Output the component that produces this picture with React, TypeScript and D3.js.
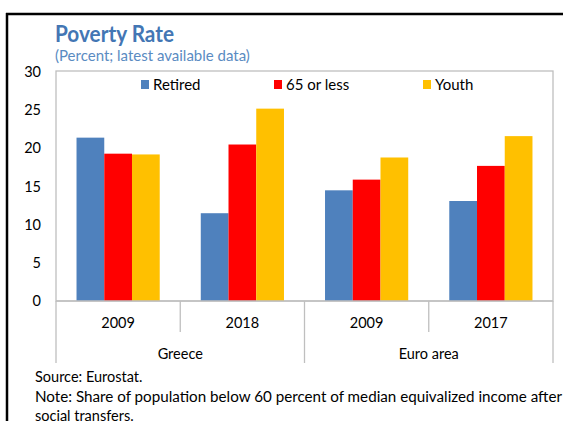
import React from "react";
import * as d3 from "d3";

const regions = ["Greece", "Euro area"];
const years = ["2009", "2018", "2009", "2017"];
const seriesNames = ["Retired", "65 or less", "Youth"];
const retired = [21.4, 11.5, 14.5, 13.1];
const under65 = [19.3, 20.5, 15.9, 17.7];
const youth = [19.2, 25.2, 18.8, 21.6];
const yTicks = [0, 5, 10, 15, 20, 25, 30];

const colors = ["#4F81BD", "#FF0000", "#FFC000"];
const FONT = "Lato, 'Open Sans', sans-serif";

const W = 563;
const H = 421;

export default function App() {
  const left = 56;
  const right = 553;
  const top = 72;
  const bottom = 301;

  const values = [retired, under65, youth];

  const y = d3.scaleLinear().domain([0, 30]).range([bottom, top]);
  const x = d3
    .scaleBand<number>()
    .domain(d3.range(years.length))
    .range([left, right])
    .padding(0);
  const xs = d3
    .scaleBand<number>()
    .domain(d3.range(seriesNames.length))
    .range([0, x.bandwidth()])
    .paddingInner(0)
    .paddingOuter(0.74);

  const regionX = d3.scaleBand<number>().domain([0, 1]).range([left, right]);

  // legend swatch x positions
  const legendX = [141, 274, 423];

  return (
    <div style={{ position: "fixed", left: 0, top: 0 }}>
      <svg width={W} height={H} style={{ display: "block", fontFamily: FONT }}>
        <rect width={W} height={H} fill="#fff" />
        {/* outer frame */}
        <line x1={6} x2={W} y1={14} y2={14} stroke="#000" strokeWidth={2.5} />
        <line x1={7} x2={7} y1={13} y2={H} stroke="#000" strokeWidth={2.5} />

        <text
          x={55}
          y={42}
          fontSize={23}
          fontWeight="bold"
          fill="#4376B4"
          textLength={119}
          lengthAdjust="spacingAndGlyphs"
        >
          Poverty Rate
        </text>
        <text x={55} y={61} fontSize={15} fill="#5A8BC2">
          (Percent; latest available data)
        </text>

        {/* plot frame */}
        <rect
          x={left}
          y={top - 1}
          width={right - left}
          height={bottom - top + 1}
          fill="none"
          stroke="#BFBFBF"
          strokeWidth={1.3}
        />

        {/* y tick labels */}
        {yTicks.map((t) => (
          <text
            key={t}
            x={41}
            y={y(t)}
            dy="0.35em"
            textAnchor="end"
            fontSize={14.5}
            fill="#000"
          >
            {t}
          </text>
        ))}

        {/* bars */}
        {years.map((_, i) =>
          values.map((vals, s) => (
            <rect
              key={`${i}-${s}`}
              x={(x(i) as number) + (xs(s) as number)}
              y={y(vals[i])}
              width={xs.bandwidth()}
              height={y(0) - y(vals[i])}
              fill={colors[s]}
            />
          ))
        )}

        {/* x axis baseline */}
        <line x1={left} x2={right} y1={bottom} y2={bottom} stroke="#BFBFBF" strokeWidth={1.3} />

        {/* category dividers */}
        {d3.range(years.length + 1).map((i) => {
          const xx = i < years.length ? (x(i) as number) : right;
          const full = i === 0 || i === years.length || i === 2;
          return (
            <line
              key={i}
              x1={xx}
              x2={xx}
              y1={bottom}
              y2={full ? 363 : 332}
              stroke="#BFBFBF"
              strokeWidth={1.3}
            />
          );
        })}

        {years.map((yr, i) => (
          <text
            key={i}
            x={(x(i) as number) + x.bandwidth() / 2}
            y={328}
            textAnchor="middle"
            fontSize={14.5}
            fill="#000"
          >
            {yr}
          </text>
        ))}

        {regions.map((r, i) => (
          <text
            key={r}
            x={(regionX(i) as number) + regionX.bandwidth() / 2}
            y={359}
            textAnchor="middle"
            fontSize={14.5}
            fill="#000"
          >
            {r}
          </text>
        ))}

        {/* legend */}
        {seriesNames.map((name, s) => (
          <g key={name} transform={`translate(${legendX[s]},80)`}>
            <rect width={8} height={9} fill={colors[s]} />
            <text x={12} y={4.5} dy="0.36em" fontSize={15} fill="#000">
              {name}
            </text>
          </g>
        ))}

        {/* footnotes */}
        <text x={35} y={382} fontSize={14.5} fill="#000">
          Source: Eurostat.
        </text>
        <text
          x={35}
          y={402}
          fontSize={14.5}
          fill="#000"
          textLength={527}
          lengthAdjust="spacingAndGlyphs"
        >
          Note: Share of population below 60 percent of median equivalized income after
        </text>
        <text x={35} y={421} fontSize={14.5} fill="#000">
          social transfers.
        </text>
      </svg>
    </div>
  );
}
